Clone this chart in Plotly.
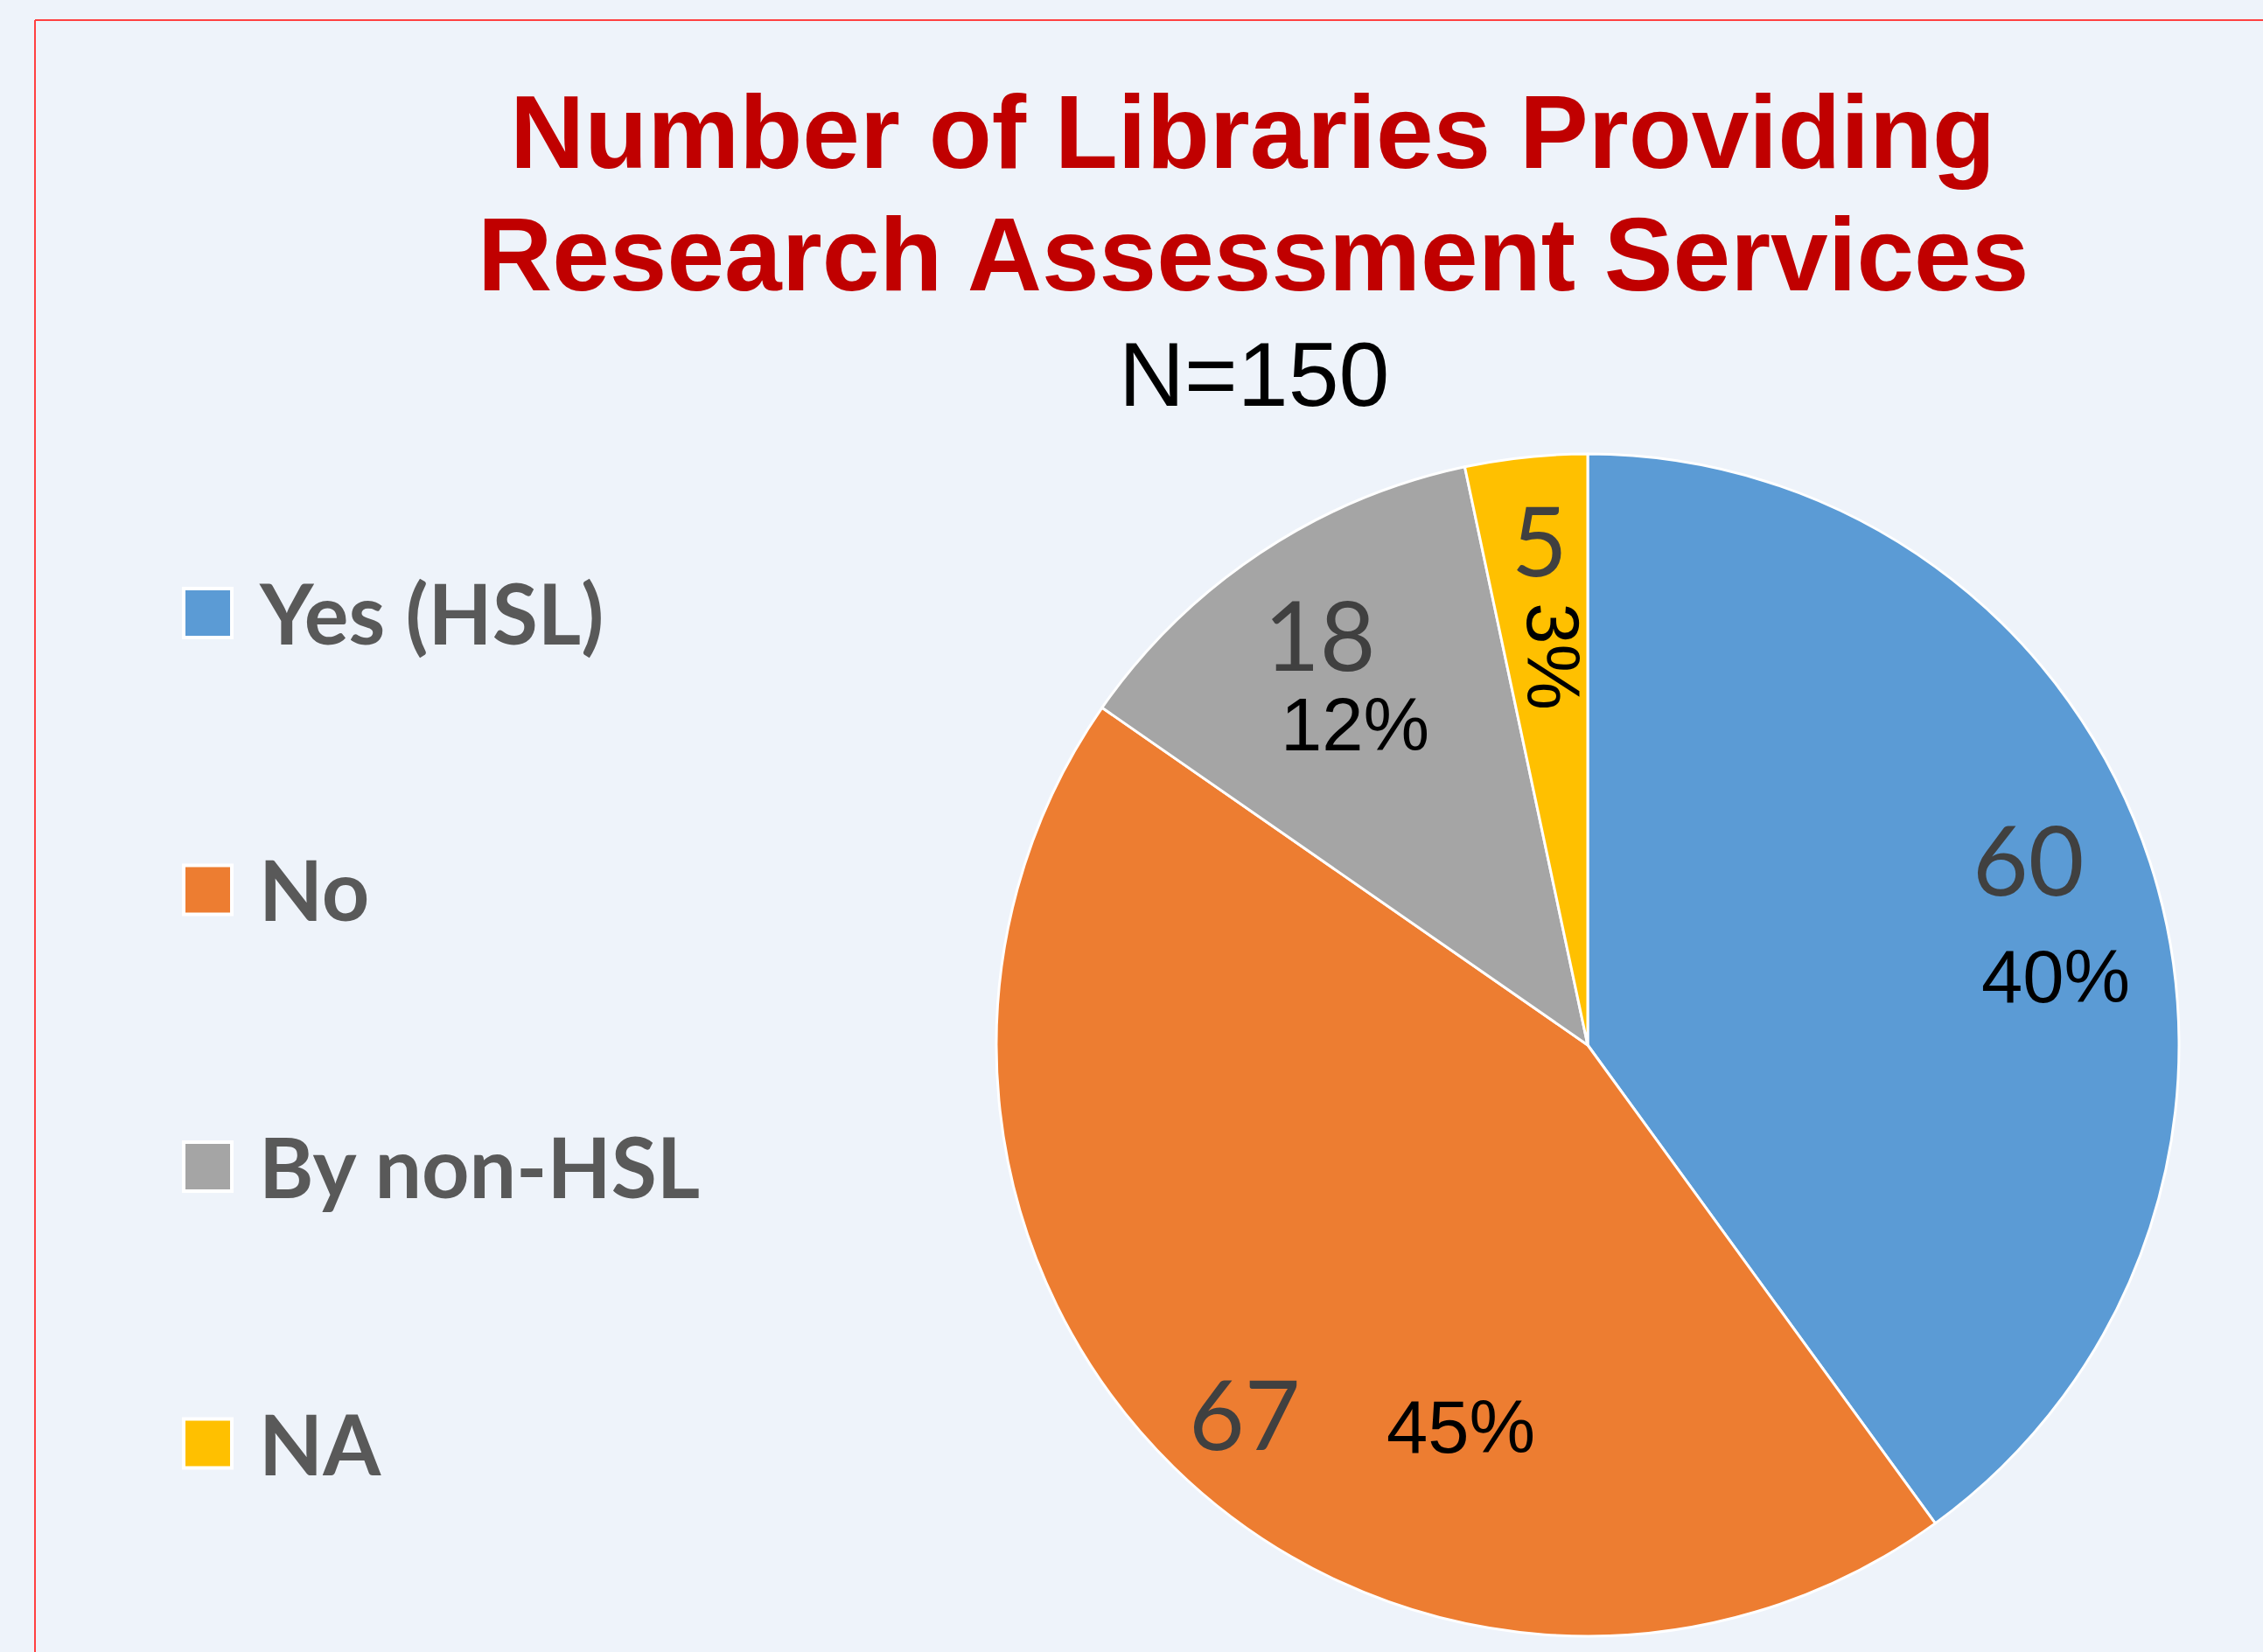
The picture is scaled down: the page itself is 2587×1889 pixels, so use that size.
import math
import plotly.graph_objects as go

# ---- data ----
categories = ["Yes (HSL)", "No", "By non-HSL", "NA"]
counts = [60, 67, 18, 5]
total_n = 150
title_lines = ["Number of Libraries Providing", "Research Assessment Services"]
subtitle = "N=150"

# ---- style ----
colors = ["#5B9BD5", "#ED7D31", "#A5A5A5", "#FFC000"]
W, H = 2587, 1889
BG = "#EEF3FA"
# pie geometry (pixels)
CX, CY, R = 1815, 1195, 676
# label placement (radius fraction, angle offset from slice middle in deg)
val_r = [0.81, 0.85, 0.83, 0.86]
val_da = [-5, -1.4, 0.6, 0.6]
pct_r = [0.80, 0.68, 0.67, 0.66]
pct_da = [9.7, -26, -2.4, 0.9]
pct_angle = [0, 0, 0, 90]


def px(x):
    return x / W


def py(y):
    return 1 - y / H


fig = go.Figure()
fig.add_trace(go.Pie(
    labels=categories,
    values=counts,
    sort=False,
    direction="clockwise",
    rotation=0,
    marker=dict(colors=colors, line=dict(color="white", width=3)),
    textinfo="none",
    hoverinfo="label+value+percent",
    showlegend=False,
    domain=dict(x=[px(CX - R), px(CX + R)], y=[py(CY + R), py(CY - R)]),
))

annotations = []
# title
for i, line in enumerate(title_lines):
    annotations.append(dict(
        text=f"<b>{line}</b>", x=px(1432), y=py(151 + i * 140), xref="paper", yref="paper",
        xanchor="center", yanchor="middle", showarrow=False,
        font=dict(family="Liberation Sans, Arial", size=118, color="#C00000")))
annotations.append(dict(
    text=subtitle, x=px(1433), y=py(428), xref="paper", yref="paper",
    xanchor="center", yanchor="middle", showarrow=False,
    font=dict(family="Liberation Sans, Arial", size=104, color="#000000")))

# slice labels
cum = 0
for i, v in enumerate(counts):
    mid = (cum + v / 2) / total_n * 360
    cum += v
    a = math.radians(mid + val_da[i])
    x = CX + val_r[i] * R * math.sin(a)
    y = CY - val_r[i] * R * math.cos(a)
    annotations.append(dict(
        text=str(v), x=px(x), y=py(y), xref="paper", yref="paper",
        xanchor="center", yanchor="middle", showarrow=False,
        font=dict(family="Lato, Noto Sans", size=110, color="#404040")))
    a = math.radians(mid + pct_da[i])
    x = CX + pct_r[i] * R * math.sin(a)
    y = CY - pct_r[i] * R * math.cos(a)
    pct = round(v / total_n * 100)
    annotations.append(dict(
        text=f"{pct}%", x=px(x), y=py(y), xref="paper", yref="paper",
        xanchor="center", yanchor="middle", showarrow=False, textangle=pct_angle[i],
        font=dict(family="Liberation Sans, Arial", size=85, color="#000000")))

# legend (built from categories/colors)
shapes = []
LEG_Y0, LEG_DY = 701, 316.5
for i, (cat, col) in enumerate(zip(categories, colors)):
    yc = LEG_Y0 + i * LEG_DY
    shapes.append(dict(type="rect", xref="paper", yref="paper",
                       x0=px(210), x1=px(265), y0=py(yc + 28), y1=py(yc - 28),
                       fillcolor=col, line=dict(color="white", width=4)))
    annotations.append(dict(
        text=f"<b>{cat}</b>", x=px(294), y=py(yc - 1), xref="paper", yref="paper",
        xanchor="left", yanchor="middle", showarrow=False,
        font=dict(family="Lato, Noto Sans", size=95, color="#595959")))

# red frame lines (top and left)
shapes.append(dict(type="line", xref="paper", yref="paper", x0=px(40), x1=1,
                   y0=py(23), y1=py(23), line=dict(color="#FF4040", width=2)))
shapes.append(dict(type="line", xref="paper", yref="paper", x0=px(40), x1=px(40),
                   y0=py(23), y1=0, line=dict(color="#FF4040", width=2)))

fig.update_layout(
    width=W, height=H,
    margin=dict(l=0, r=0, t=0, b=0),
    paper_bgcolor=BG, plot_bgcolor=BG,
    annotations=annotations, shapes=shapes,
    showlegend=False,
)

fig.write_html(
    "out.html",
    config={"displayModeBar": False},
    post_script="document.body.style.margin='0';document.body.style.background='" + BG + "';",
)
